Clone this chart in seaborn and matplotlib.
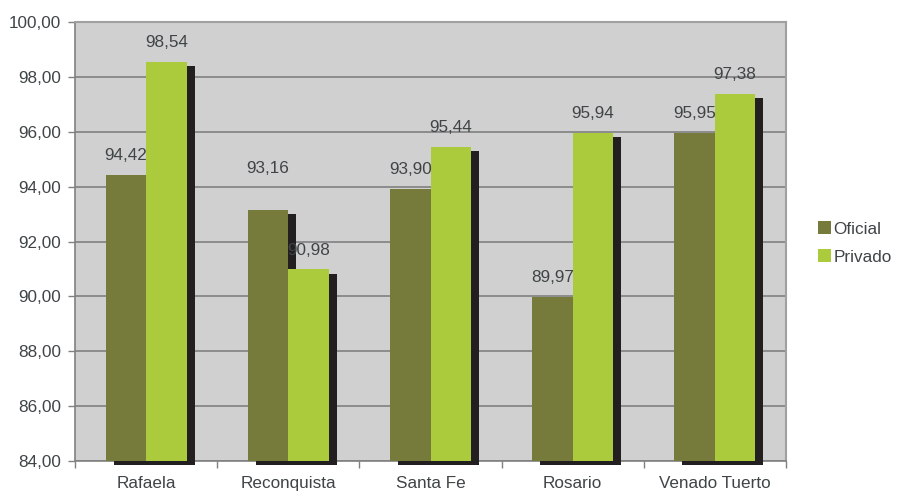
import matplotlib
matplotlib.use("Agg")
import matplotlib.pyplot as plt
import matplotlib.patheffects as pe
from matplotlib.ticker import FuncFormatter, FixedLocator
import seaborn as sns
import pandas as pd

categories = ["Rafaela", "Reconquista", "Santa Fe", "Rosario", "Venado Tuerto"]
series = ["Oficial", "Privado"]
oficial = [94.42, 93.16, 93.90, 89.97, 95.95]
privado = [98.54, 90.98, 95.44, 95.94, 97.38]
y_ticks = [84, 86, 88, 90, 92, 94, 96, 98, 100]

df = pd.DataFrame({
    "ciudad": categories * 2,
    "sector": [series[0]] * len(oficial) + [series[1]] * len(privado),
    "valor": oficial + privado,
})

sns.set_theme(style="white")
plt.rcParams["font.family"] = ["Liberation Sans", "DejaVu Sans"]

TXT = "#3F4446"
FS = 12.3
fig = plt.figure(figsize=(8.98, 4.97), dpi=100)
ax = fig.add_axes([75 / 898, 36 / 497, 711 / 898, 439 / 497])
ax.set_facecolor("#D0D0D0")

colors = {"Oficial": "#767A3B", "Privado": "#ABCB3C"}
sns.barplot(data=df, x="ciudad", y="valor", hue="sector", palette=colors,
            width=0.57, ax=ax, saturation=1, linewidth=0, errorbar=None,
            order=categories, hue_order=series)

ymin = y_ticks[0]
ax.set_ylim(ymin, y_ticks[-1])
ax.set_xlim(-0.5, len(categories) - 0.5)

shadow = [pe.SimplePatchShadow(offset=(5.8, -2.9), shadow_rgbFace="#231F20", alpha=1.0), pe.Normal()]
bars = [p for p in ax.patches if p.get_height() > 0]
for p in bars:
    top = p.get_y() + p.get_height()
    p.set_y(ymin)
    p.set_height(top - ymin)
    p.set_clip_on(False)
    p.set_path_effects(shadow)
    p.set_zorder(3)

# data labels
for p in bars:
    val = p.get_y() + p.get_height()
    off = 14
    if abs(val - oficial[1]) < 1e-6:
        off = 29.5
    ax.annotate(f"{val:.2f}".replace(".", ","), (p.get_x() + p.get_width() / 2, val),
                xytext=(0, off), textcoords="offset points", ha="center", va="center",
                fontsize=FS, color=TXT, zorder=5)

ax.set_axisbelow(True)
ax.yaxis.set_major_locator(FixedLocator(y_ticks))
ax.yaxis.set_major_formatter(FuncFormatter(lambda v, _: f"{v:.2f}".replace(".", ",")))
ax.grid(axis="y", color="#808080", linewidth=1.2)
ax.grid(axis="x", visible=False)

ax.set_xlabel("")
ax.set_ylabel("")
ax.tick_params(axis="y", which="major", direction="out", length=5, width=1, color="#808080",
               labelsize=FS, labelcolor=TXT, pad=5, left=True)
ax.tick_params(axis="x", which="major", length=0, labelsize=FS, labelcolor=TXT, pad=11)
ax.xaxis.set_minor_locator(FixedLocator([i - 0.5 for i in range(len(categories) + 1)]))
ax.tick_params(axis="x", which="minor", direction="out", length=5, width=1, color="#808080", bottom=True)

for s in ["left", "bottom"]:
    ax.spines[s].set_color("#808080")
    ax.spines[s].set_linewidth(1.2)
for s in ["top", "right"]:
    ax.spines[s].set_color("#A0A0A0")
    ax.spines[s].set_linewidth(1.5)

handles, labels = ax.get_legend_handles_labels()
ax.legend(handles, labels, loc="center left", bbox_to_anchor=(818 / 898, (497 - 243) / 497),
          bbox_transform=fig.transFigure, frameon=False, handlelength=0.75,
          handleheight=0.75, handletextpad=0.15, labelspacing=0.75, fontsize=FS,
          labelcolor=TXT, borderpad=0, borderaxespad=0)

fig.savefig("out.png", dpi=100, facecolor="white")
